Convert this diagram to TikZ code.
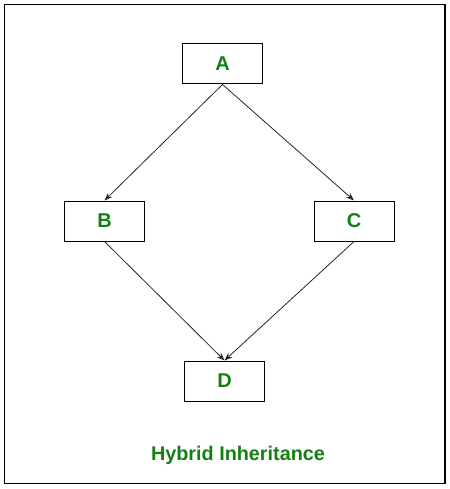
\documentclass[tikz,border=0pt]{standalone}
\usepackage{fontspec}
\setmainfont{Liberation Sans}
\usetikzlibrary{arrows.meta}
\definecolor{labelgreen}{RGB}{20,128,20}
\tikzset{
  classbox/.style={draw=black, line width=1pt, minimum width=80pt, minimum height=40pt, inner sep=0pt,
    font=\fontsize{20}{24}\selectfont\bfseries, text=labelgreen},
  inherit/.style={draw=black!85, line width=0.8pt, -{Stealth[length=8pt,width=6pt]}},
}
\begin{document}
\begin{tikzpicture}[x=1pt,y=-1pt]
  \useasboundingbox (0,0) rectangle (449,489);
  \draw[line width=1.6pt] (4.5,4.5) rectangle (445,483.5);
  \node[classbox] (A) at (222.5,64) {A};
  \node[classbox] (B) at (104.5,221) {B};
  \node[classbox] (C) at (354,221) {C};
  \node[classbox] (D) at (224.5,381) {D};
  \draw[inherit] (A.south) -- (B.north);
  \draw[inherit] (A.south) -- (C.north);
  \draw[inherit] (B.south) -- (D.north);
  \draw[inherit] (C.south) -- (D.north);
  \node[font=\fontsize{19.8}{24}\selectfont\bfseries, text=labelgreen] (title) at (238,455) {Hybrid Inheritance};
\end{tikzpicture}
\end{document}
